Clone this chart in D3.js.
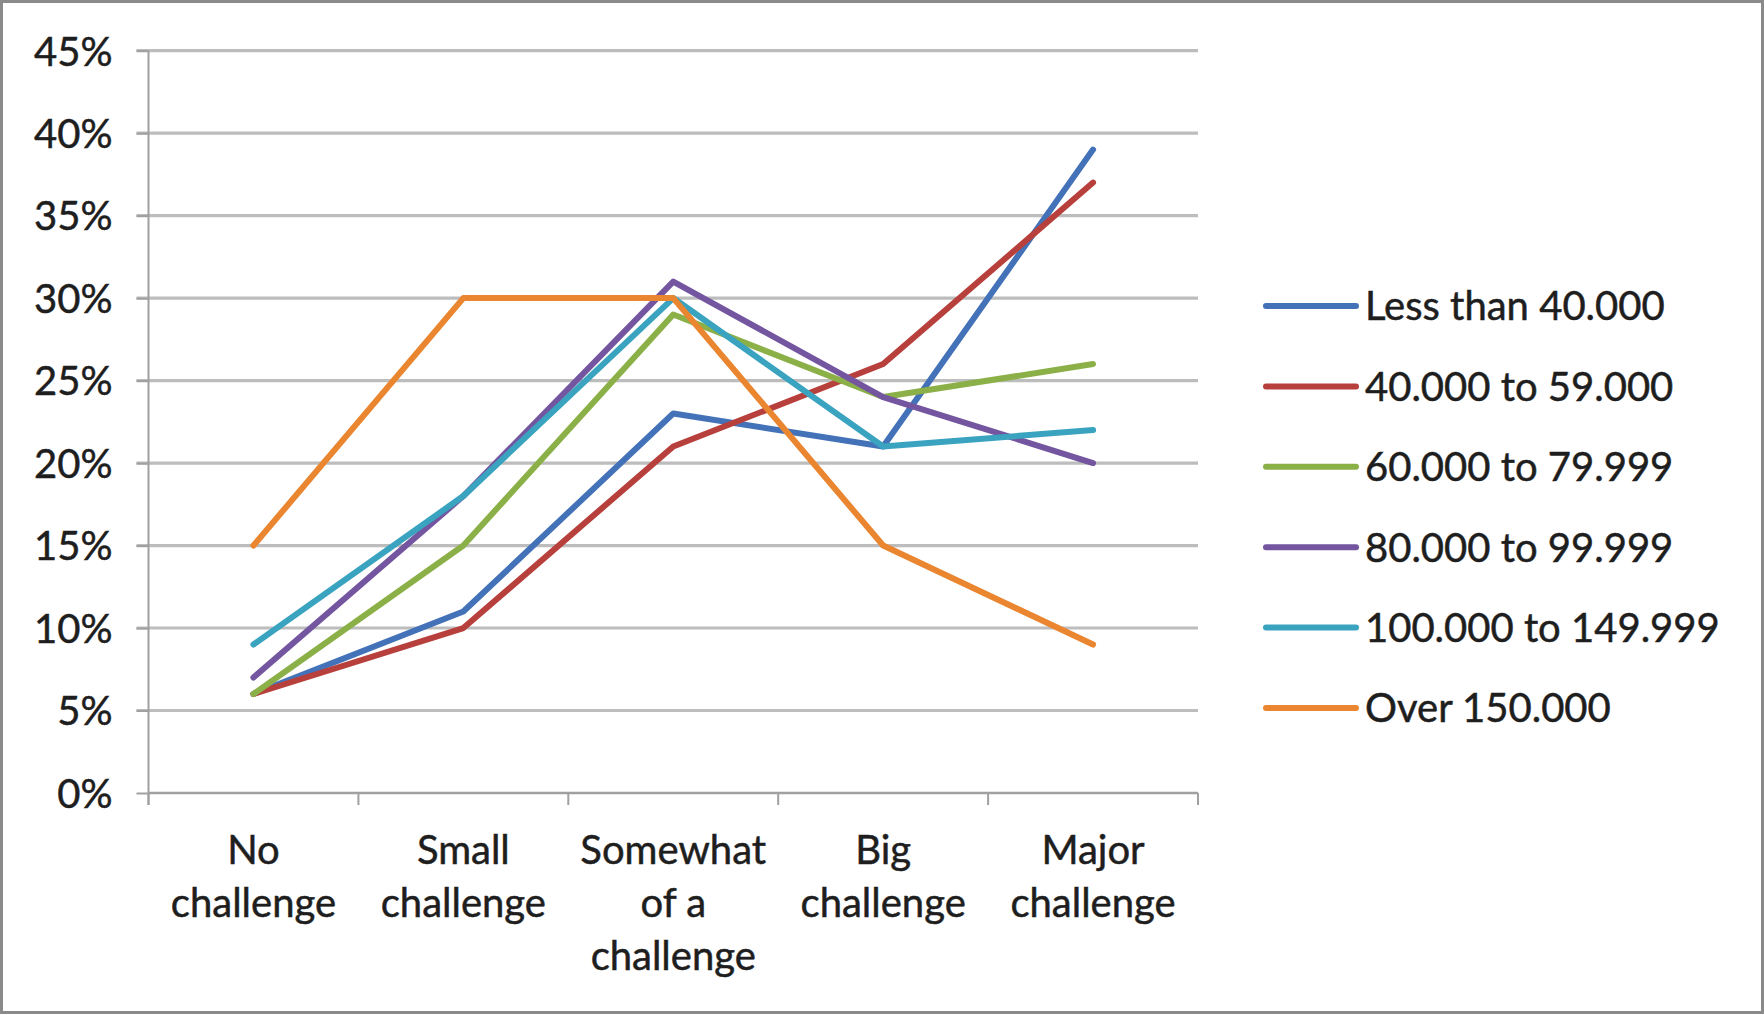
<!DOCTYPE html>
<html>
<head>
<meta charset="utf-8">
<script src="https://cdn.jsdelivr.net/npm/d3@7"></script>
<style>
  html, body { margin: 0; padding: 0; background: #fff; }
  svg { display: block; }
  text { font-family: Lato, "Open Sans", sans-serif; fill: #1e1e1e; stroke: #1e1e1e; stroke-width: 0.5px; }
</style>
</head>
<body>
<svg id="chart" width="1764" height="1015"></svg>
<script>
// Response categories along the x axis (each label split into lines)
const categories = ["No challenge", "Small challenge", "Somewhat of a challenge", "Big challenge", "Major challenge"];
const categoryLines = [
  ["No", "challenge"],
  ["Small", "challenge"],
  ["Somewhat", "of a", "challenge"],
  ["Big", "challenge"],
  ["Major", "challenge"]
];

// Income groups (series names)
const seriesNames = [
  "Less than 40.000",
  "40.000 to 59.000",
  "60.000 to 79.999",
  "80.000 to 99.999",
  "100.000 to 149.999",
  "Over 150.000"
];

// Share of respondents per category, in percent
const lessThan40 = [6, 11, 23, 21, 39];
const from40to59 = [6, 10, 21, 26, 37];
const from60to79 = [6, 15, 29, 24, 26];
const from80to99 = [7, 18, 31, 24, 20];
const from100to149 = [9, 18, 30, 21, 22];
const over150 = [15, 30, 30, 15, 9];

const yTicks = [0, 5, 10, 15, 20, 25, 30, 35, 40, 45];

const seriesValues = [lessThan40, from40to59, from60to79, from80to99, from100to149, over150];
const colors = ["#4472b8", "#b8403c", "#8cb048", "#7455a0", "#3aa3bf", "#ea8530"];

const svg = d3.select("#chart");
const W = 1764, H = 1015;

// outer frame
svg.append("rect")
  .attr("x", 1.5).attr("y", 1.5)
  .attr("width", W - 3).attr("height", H - 4)
  .attr("fill", "#fff").attr("stroke", "#8a8a8a").attr("stroke-width", 3);

const plot = { left: 148.5, right: 1198, top: 50.6, bottom: 793 };

const x = d3.scaleBand().domain(categories).range([plot.left, plot.right]).padding(0);
const y = d3.scaleLinear().domain([0, 45]).range([plot.bottom, plot.top]);

// horizontal gridlines (with short outward ticks on the left)
svg.append("g")
  .selectAll("line")
  .data(yTicks.filter(t => t > 0))
  .join("line")
  .attr("x1", plot.left - 12).attr("x2", plot.right)
  .attr("y1", d => y(d)).attr("y2", d => y(d))
  .attr("stroke", "#bdbdbd").attr("stroke-width", 3.2);

// y axis
const yAxis = d3.axisLeft(y).tickValues(yTicks).tickSize(12).tickFormat(d => d + "%");
const gy = svg.append("g").attr("transform", `translate(${plot.left},0)`).call(yAxis);
gy.select(".domain").attr("stroke", "#a0a0a0").attr("stroke-width", 2)
  .attr("d", `M0,${plot.top}V${plot.bottom + 12}`);
gy.selectAll(".tick line").attr("stroke", "#a0a0a0").attr("stroke-width", 2);
gy.selectAll(".tick text")
  .attr("x", -36).attr("dy", "0.36em")
  .style("font-size", "40px").style("font-family", "Lato, sans-serif")
  .attr("fill", "#1e1e1e").attr("stroke", "#1e1e1e").attr("stroke-width", 0.5);

// x axis with tick marks at category boundaries
const boundaries = categories.map(c => x(c)).concat([plot.right]);
const gx = svg.append("g");
gx.append("line")
  .attr("x1", plot.left).attr("x2", plot.right)
  .attr("y1", plot.bottom).attr("y2", plot.bottom)
  .attr("stroke", "#a0a0a0").attr("stroke-width", 2.5);
gx.selectAll("line.tick")
  .data(boundaries)
  .join("line")
  .attr("class", "tick")
  .attr("x1", d => d).attr("x2", d => d)
  .attr("y1", plot.bottom).attr("y2", plot.bottom + 12)
  .attr("stroke", "#a0a0a0").attr("stroke-width", 2);

// category labels
const labels = svg.append("g").selectAll("text")
  .data(categories)
  .join("text")
  .attr("text-anchor", "middle")
  .style("font-size", "40px");
labels.each(function(c, i) {
  const t = d3.select(this);
  categoryLines[i].forEach((line, k) => {
    t.append("tspan")
      .attr("x", x(c) + x.bandwidth() / 2)
      .attr("y", 864 + k * 53)
      .text(line);
  });
});

// series lines
const line = d3.line()
  .x((d, i) => x(categories[i]) + x.bandwidth() / 2)
  .y(d => y(d));

svg.append("g")
  .selectAll("path")
  .data(seriesValues)
  .join("path")
  .attr("d", d => line(d))
  .attr("fill", "none")
  .attr("stroke", (d, i) => colors[i])
  .attr("stroke-width", 6)
  .attr("stroke-linejoin", "round")
  .attr("stroke-linecap", "round");

// legend
const legend = svg.append("g").attr("transform", "translate(1266,306)");
const rows = legend.selectAll("g")
  .data(seriesNames)
  .join("g")
  .attr("transform", (d, i) => `translate(0,${i * 80.4})`);
rows.append("line")
  .attr("x1", 0).attr("x2", 90).attr("y1", 0).attr("y2", 0)
  .attr("stroke", (d, i) => colors[i])
  .attr("stroke-width", 6)
  .attr("stroke-linecap", "round");
rows.append("text")
  .attr("x", 99).attr("dy", "0.36em")
  .style("font-size", "40px")
  .text(d => d);
</script>
</body>
</html>
